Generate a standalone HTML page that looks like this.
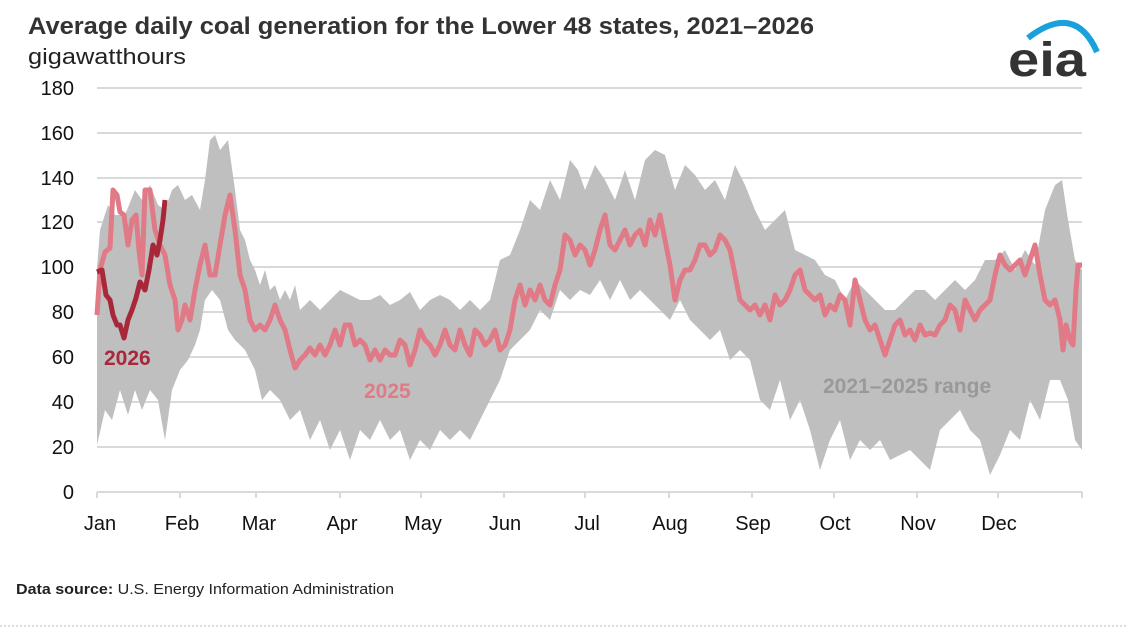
<!DOCTYPE html><html><head><style>body{margin:0;background:#fff;font-family:"Liberation Sans",Arial,sans-serif}</style></head><body>
<svg width="1126" height="637" xmlns="http://www.w3.org/2000/svg" font-family="Liberation Sans, Arial, sans-serif">
<text x="28" y="34" font-size="24" font-weight="bold" fill="#333" textLength="786" lengthAdjust="spacingAndGlyphs">Average daily coal generation for the Lower 48 states, 2021–2026</text>
<text x="28" y="64" font-size="22" fill="#222" textLength="158" lengthAdjust="spacingAndGlyphs">gigawatthours</text>
<g stroke="#d9d9d9" stroke-width="2">
<line x1="97" x2="1082" y1="88" y2="88"/><line x1="97" x2="1082" y1="133" y2="133"/><line x1="97" x2="1082" y1="178" y2="178"/><line x1="97" x2="1082" y1="222" y2="222"/><line x1="97" x2="1082" y1="267" y2="267"/><line x1="97" x2="1082" y1="312" y2="312"/><line x1="97" x2="1082" y1="357" y2="357"/><line x1="97" x2="1082" y1="402" y2="402"/><line x1="97" x2="1082" y1="447" y2="447"/>
</g>
<g font-size="20" fill="#111" text-anchor="end">
<text x="74" y="95">180</text><text x="74" y="140">160</text><text x="74" y="185">140</text><text x="74" y="229">120</text><text x="74" y="274">100</text><text x="74" y="319">80</text><text x="74" y="364">60</text><text x="74" y="409">40</text><text x="74" y="454">20</text><text x="74" y="499">0</text>
</g>
<polygon fill="#bfbfbf" points="97,268 100,230 108,205 115,215 125,215 135,190 142,200 150,185 158,205 165,210 172,190 178,185 185,200 192,195 200,210 205,180 210,140 215,135 220,150 228,140 235,190 240,230 245,240 250,260 255,270 260,285 265,270 270,290 275,285 280,300 285,290 290,300 295,285 300,310 310,300 320,310 330,300 340,290 350,295 360,300 370,300 380,295 390,305 400,300 410,292 420,310 430,300 440,295 450,300 460,310 470,300 480,310 490,300 500,260 510,255 520,230 530,200 540,210 550,180 560,200 570,160 578,170 585,190 595,165 605,180 615,200 625,170 635,200 645,160 655,150 665,155 675,190 685,165 695,175 705,190 715,180 725,200 735,165 745,185 755,210 765,230 775,220 785,210 795,250 805,255 815,260 825,275 835,280 845,300 855,280 865,290 875,300 885,310 895,310 905,300 915,290 925,290 935,300 945,290 955,280 965,290 975,280 985,260 995,260 1005,250 1015,270 1025,250 1035,265 1045,210 1055,185 1062,180 1068,220 1075,260 1082,270 1082,450 1075,440 1068,400 1060,380 1050,380 1040,420 1030,400 1020,440 1010,430 1000,455 990,475 980,440 970,430 960,410 950,420 940,430 930,470 920,460 910,450 900,455 890,460 880,440 870,450 860,440 850,460 840,420 830,440 820,470 810,430 800,400 790,420 780,380 770,410 760,400 750,360 740,350 730,360 720,330 710,340 700,330 690,320 680,300 670,320 660,310 650,300 640,290 630,300 620,280 610,300 600,280 590,295 580,290 570,300 560,290 550,320 540,310 530,330 520,340 510,350 500,380 490,400 480,420 470,440 460,430 450,440 440,430 430,450 420,440 410,460 400,430 390,440 380,420 370,440 360,430 350,460 340,430 330,450 320,420 310,440 300,410 290,420 280,400 270,390 262,400 255,370 245,350 235,340 228,330 220,300 212,290 205,300 200,330 195,345 188,360 180,370 172,390 165,440 158,400 150,390 142,410 135,390 128,415 120,390 112,420 105,410 97,445"/>
<line x1="97" x2="1082" y1="492" y2="492" stroke="#d9d9d9" stroke-width="2"/>
<g stroke="#d9d9d9" stroke-width="2"><line x1="97" x2="97" y1="492" y2="498"/><line x1="180" x2="180" y1="492" y2="498"/><line x1="256" x2="256" y1="492" y2="498"/><line x1="340" x2="340" y1="492" y2="498"/><line x1="421" x2="421" y1="492" y2="498"/><line x1="504" x2="504" y1="492" y2="498"/><line x1="585" x2="585" y1="492" y2="498"/><line x1="669" x2="669" y1="492" y2="498"/><line x1="752" x2="752" y1="492" y2="498"/><line x1="834" x2="834" y1="492" y2="498"/><line x1="917" x2="917" y1="492" y2="498"/><line x1="998" x2="998" y1="492" y2="498"/><line x1="1082" x2="1082" y1="492" y2="498"/></g>
<polyline fill="none" stroke="#e07a86" stroke-width="5" stroke-linejoin="round" points="97,315 100,270 105,252 110,248 113,190 117,195 120,212 124,215 128,245 132,220 136,215 139,250 142,275 145,190 150,190 155,230 160,245 165,255 170,285 175,300 178,330 182,320 185,305 190,320 195,290 200,265 205,245 210,275 215,275 220,245 225,215 230,195 235,230 240,275 245,290 250,320 255,330 260,325 265,330 270,320 275,305 280,320 285,330 290,350 295,368 300,360 305,355 310,348 315,355 320,345 325,355 330,345 335,330 340,345 345,325 350,325 355,345 360,340 365,345 370,360 375,350 380,360 385,350 390,355 395,355 400,340 405,345 410,365 415,350 420,330 425,340 430,345 435,355 440,345 445,330 450,345 455,350 460,330 465,345 470,355 475,330 480,335 485,345 490,340 495,330 500,350 505,345 510,330 515,300 520,285 525,305 530,290 535,300 540,285 545,300 550,305 555,285 560,270 565,235 570,240 575,255 580,245 585,250 590,265 595,250 600,230 605,215 610,245 615,250 620,240 625,230 630,245 635,235 640,230 645,245 650,220 655,235 660,215 665,240 670,265 675,300 680,280 685,270 690,270 695,260 700,245 705,245 710,255 715,250 720,235 725,240 730,250 735,275 740,300 745,305 750,310 755,305 760,315 765,305 770,320 775,295 780,305 785,300 790,290 795,275 800,270 805,290 810,295 815,300 820,295 825,315 830,305 835,310 840,295 845,300 850,325 855,280 860,300 865,320 870,330 875,325 880,340 885,355 890,340 895,325 900,320 905,335 910,330 915,340 920,325 925,335 930,333 935,335 940,325 945,320 950,305 955,310 960,330 965,300 970,310 975,320 980,310 985,305 990,300 995,275 1000,255 1005,265 1010,270 1015,265 1020,260 1025,275 1030,260 1035,245 1040,275 1045,300 1050,305 1055,300 1060,320 1063,350 1066,325 1070,340 1073,345 1076,290 1078,265 1082,265"/>
<polyline fill="none" stroke="#a8283a" stroke-width="5" stroke-linejoin="round" points="97,272 102,270 106,295 110,300 113,315 117,325 120,325 124,338 128,320 132,310 136,298 140,282 145,290 149,270 153,245 157,255 160,240 163,220 165,200"/>
<text x="104" y="365" font-size="21" font-weight="bold" fill="#a8283a">2026</text>
<text x="364" y="398" font-size="21" font-weight="bold" fill="#e07a86">2025</text>
<text x="823" y="393" font-size="21" font-weight="bold" fill="#999">2021–2025 range</text>
<g font-size="20" fill="#111" text-anchor="middle">
<text x="100" y="530">Jan</text><text x="182" y="530">Feb</text><text x="259" y="530">Mar</text><text x="342" y="530">Apr</text><text x="423" y="530">May</text><text x="505" y="530">Jun</text><text x="587" y="530">Jul</text><text x="670" y="530">Aug</text><text x="753" y="530">Sep</text><text x="835" y="530">Oct</text><text x="918" y="530">Nov</text><text x="999" y="530">Dec</text>
</g>
<text x="16" y="594" font-size="15" fill="#222" textLength="378" lengthAdjust="spacingAndGlyphs"><tspan font-weight="bold">Data source:</tspan> U.S. Energy Information Administration</text>
<line x1="0" x2="1126" y1="626" y2="626" stroke="#bbb" stroke-dasharray="2,2"/>
<path d="M1028,38 Q1075,2 1097,52" fill="none" stroke="#1aa0db" stroke-width="6"/>
<text x="1008" y="76" font-size="48" font-weight="bold" fill="#333" textLength="78" lengthAdjust="spacingAndGlyphs">eia</text>
</svg></body></html>
